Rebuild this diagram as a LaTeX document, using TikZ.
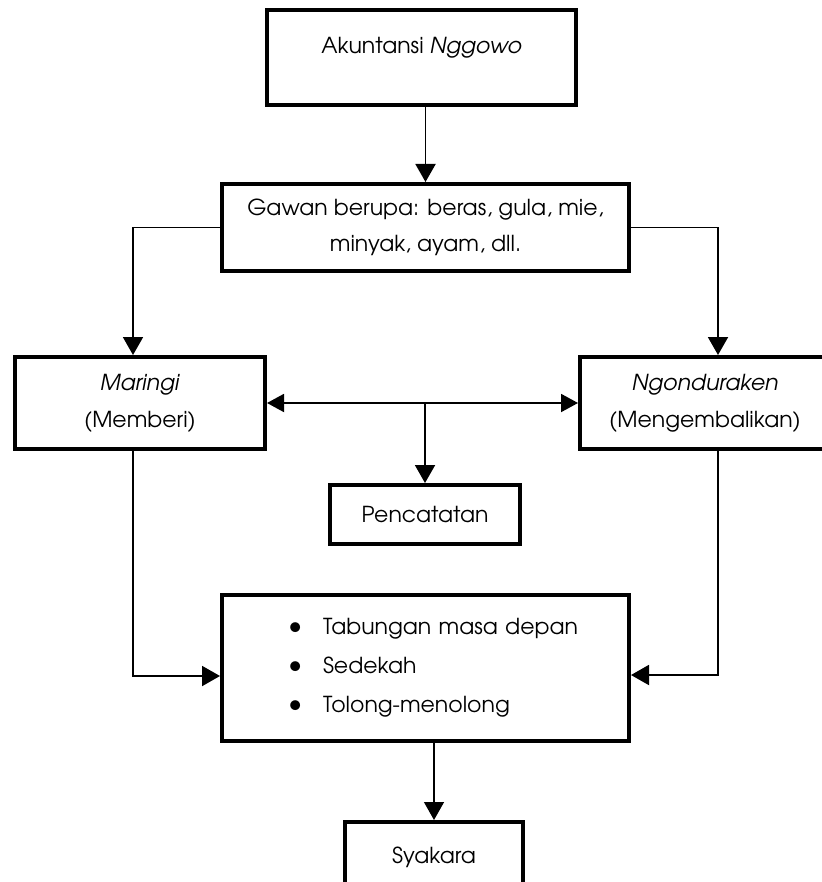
\documentclass[tikz,border=0pt]{standalone}
\usepackage{fontspec}
\setmainfont{TeX Gyre Adventor}
\usetikzlibrary{arrows.meta,calc}
\newcommand{\bul}{\hspace*{50pt}\makebox[35pt][l]{\raisebox{0.5pt}{\scalebox{1.25}{\textbullet}}}}
\begin{document}
\begin{tikzpicture}[x=1pt,y=-1pt,
  box/.style={draw, line width=4pt, inner sep=0pt, align=center, font=\fontsize{22}{36}\selectfont},
  arr/.style={line width=1.9pt, -{Triangle[length=18pt,width=20pt]}},
  arrboth/.style={line width=1.9pt, {Triangle[length=17pt,width=18pt]}-{Triangle[length=17pt,width=18pt]}}]
\useasboundingbox (0,0) rectangle (821,882);
\node[box, minimum width=309pt, minimum height=95pt, text height=44pt, text depth=51pt] (top) at (421.5,57.5) {Akuntansi \textit{Nggowo}};
\node[box, minimum width=407pt, minimum height=87pt] (gawan) at (425.5,227.5) {Gawan berupa: beras, gula, mie,\\ minyak, ayam, dll.};
\node[box, minimum width=250pt, minimum height=92pt, font=\fontsize{22}{37}\selectfont] (maringi) at (140,403) {\textit{Maringi}\\(Memberi)};
\node[box, minimum width=250pt, minimum height=92pt, font=\fontsize{22}{37}\selectfont] (ngond) at (705,403) {\textit{Ngonduraken}\\(Mengembalikan)};
\node[box, minimum width=190pt, minimum height=59pt] (pencatatan) at (425,514.5) {Pencatatan};
\node[box, minimum height=146pt, align=left, text width=375pt, inner xsep=16pt, font=\fontsize{22}{39}\selectfont] (main) at (425.5,668)
  {\bul Tabungan masa depan\\ \bul Sedekah\\ \bul Tolong-menolong};
\node[box, minimum width=178pt, minimum height=70pt] (syakara) at (434,857) {Syakara};
\draw[arr] (top.south -| gawan.north) -- (gawan.north);
\draw[arr] (gawan.west) -| ($(maringi.north)+(-7,0)$);
\draw[arr] (gawan.east) -| ($(ngond.north)+(13,0)$);
\draw[arrboth] (maringi.east) -- (ngond.west);
\draw[arr] (maringi.east -| pencatatan.north) -- (pencatatan.north);
\draw[arr] ($(maringi.south)+(-7,0)$) |- ($(main.west)+(0,8)$);
\draw[arr] ($(ngond.south)+(13,0)$) |- ($(main.east)+(0,7)$);
\draw[arr, line width=1.3pt] (main.south -| syakara.north) -- (syakara.north);
\end{tikzpicture}
\end{document}
